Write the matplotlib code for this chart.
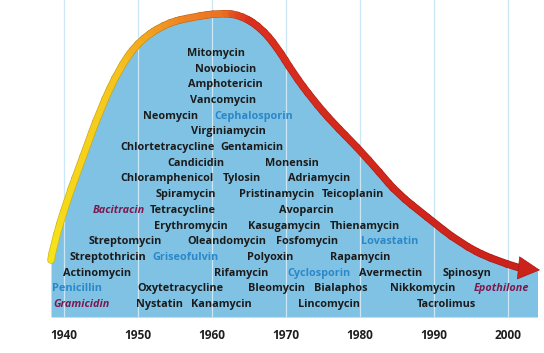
import numpy as np
import matplotlib
matplotlib.use('Agg')
import matplotlib.pyplot as plt
from matplotlib.collections import LineCollection
from matplotlib.colors import LinearSegmentedColormap
from matplotlib.path import Path

#
# data: discovery timeline (x = year, y = stacking row)
#
curve_years = [1938.24, 1938.51, 1940.41, 1942.57, 1944.86, 1947.57, 1950.27, 1953.92,
               1957.43, 1961.08, 1963.78, 1966.49, 1968.78, 1970.95, 1973.65, 1976.35,
               1979.59, 1982.70, 1985.00, 1989.05, 1993.51, 1997.97, 2001.62]
curve_level = [2.74, 3.57, 6.56, 9.31, 12.30, 15.04, 16.76, 17.85,
               18.23, 18.48, 18.36, 17.59, 16.32, 14.66, 12.94, 11.47,
               9.94, 8.29, 7.01, 5.48, 3.82, 2.74, 2.23]
arrow_tip = (2004.32, 2.10)

names = ['Mitomycin', 'Novobiocin', 'Amphotericin', 'Vancomycin',
         'Neomycin', 'Cephalosporin', 'Virginiamycin',
         'Chlortetracycline', 'Gentamicin', 'Candicidin', 'Monensin',
         'Chloramphenicol', 'Tylosin', 'Adriamycin',
         'Spiramycin', 'Pristinamycin', 'Teicoplanin',
         'Bacitracin', 'Tetracycline', 'Avoparcin',
         'Erythromycin', 'Kasugamycin', 'Thienamycin',
         'Streptomycin', 'Oleandomycin', 'Fosfomycin', 'Lovastatin',
         'Streptothricin', 'Griseofulvin', 'Polyoxin', 'Rapamycin',
         'Actinomycin', 'Rifamycin', 'Cyclosporin', 'Avermectin', 'Spinosyn',
         'Penicillin', 'Oxytetracycline', 'Bleomycin', 'Bialaphos', 'Nikkomycin', 'Epothilone',
         'Gramicidin', 'Nystatin', 'Kanamycin', 'Lincomycin', 'Tacrolimus']
years = [1960.6, 1961.8, 1961.8, 1961.5,
         1954.4, 1965.7, 1962.2,
         1954.05, 1965.4, 1957.8, 1970.8,
         1953.9, 1964.0, 1974.5,
         1956.5, 1968.7, 1979.1,
         1947.45, 1956.1, 1972.8,
         1957.2, 1969.7, 1980.7,
         1948.3, 1962.0, 1972.8, 1984.05,
         1945.95, 1956.35, 1967.9, 1980.0,
         1944.5, 1963.9, 1974.5, 1984.1, 1994.5,
         1941.8, 1955.7, 1968.7, 1977.4, 1988.45, 1999.15,
         1942.35, 1952.9, 1961.3, 1975.75, 1991.7]
rows = [16, 15, 14, 13,
        12, 12, 11,
        10, 10, 9, 9,
        8, 8, 8,
        7, 7, 7,
        6, 6, 6,
        5, 5, 5,
        4, 4, 4, 4,
        3, 3, 3, 3,
        2, 2, 2, 2, 2,
        1, 1, 1, 1, 1, 1,
        0, 0, 0, 0, 0]
# k = plain, b = blue, p = purple italic
kinds = ['k', 'k', 'k', 'k',
         'k', 'b', 'k',
         'k', 'k', 'k', 'k',
         'k', 'k', 'k',
         'k', 'k', 'k',
         'p', 'k', 'k',
         'k', 'k', 'k',
         'k', 'k', 'k', 'b',
         'k', 'b', 'k', 'k',
         'k', 'k', 'b', 'k', 'k',
         'b', 'k', 'k', 'k', 'k', 'p',
         'p', 'k', 'k', 'k', 'k']

decades = [1940, 1950, 1960, 1970, 1980, 1990, 2000]

styles = {'k': dict(color='#1b1b1b', style='normal'),
          'b': dict(color='#2b87c9', style='normal'),
          'p': dict(color='#7c1a4e', style='italic')}

fig = plt.figure(figsize=(5.44, 3.53), dpi=100)
ax = fig.add_axes([0.09375, 0.10198, 0.89338, 0.89802])
ax.set_xlim(1938.24, 2003.92)
ax.set_ylim(-0.892, 19.312)

#
# smooth the hand drawn curve: quadratic bezier path, flattened in display space
#
pts = np.column_stack([curve_years, curve_level])
verts = [pts[0]]
codes = [Path.MOVETO]
for i in range(1, len(pts) - 1):
    end = pts[i + 1] if i == len(pts) - 2 else (pts[i] + pts[i + 1]) / 2
    verts += [pts[i], end]
    codes += [Path.CURVE3, Path.CURVE3]
path = Path(verts, codes)
disp = ax.transData.transform_path(path)
poly = disp.to_polygons(closed_only=False)[0]
smooth = ax.transData.inverted().transform(poly)

# blue area under the curve
fx = np.append(smooth[:, 0], arrow_tip[0])
fy = np.append(smooth[:, 1], arrow_tip[1])
ax.fill_between(fx, fy, -0.892, color='#80c2e3', lw=0, zorder=0.2)

# decade grid
ax.set_xticks(decades)
ax.grid(axis='x', color='#cbe7f5', lw=0.9)
ax.set_axisbelow(True)

for s in ax.spines.values():
    s.set_visible(False)
ax.set_yticks([])
ax.tick_params(axis='x', length=0, pad=8.5, labelsize=8.6, labelcolor='#1e1e1e')
for lab in ax.get_xticklabels():
    lab.set_fontweight('bold')
    lab.set_fontfamily('Open Sans')

# gradient curve with a thin darker rim
cmap = LinearSegmentedColormap.from_list('heat', [(0.0, '#f6e31a'), (0.18, '#f5c21e'),
                                                 (0.32, '#f09622'), (0.44, '#ec7022'),
                                                 (0.52, '#dc301e'), (1.0, '#cb221b')])
segs = np.stack([smooth[:-1], smooth[1:]], axis=1)
frac = np.linspace(0, 1, len(segs))
cols = cmap(frac)
rim = cols.copy()
rim[:, :3] *= 0.82
ax.add_collection(LineCollection(segs, colors=rim, linewidths=5.4, capstyle='round',
                                 zorder=2.9, clip_on=False))
ax.add_collection(LineCollection(segs, colors=cols, linewidths=4.4, capstyle='round',
                                 zorder=3, clip_on=False))
ax.annotate('', xy=arrow_tip, xytext=(curve_years[-1], curve_level[-1]),
            arrowprops=dict(arrowstyle='-|>,head_length=1.5,head_width=0.8',
                            fc='#cb221b', ec='#a81a15', lw=0.5, shrinkA=0, shrinkB=0,
                            mutation_scale=10),
            annotation_clip=False, zorder=3)

for name, yr, r, k in zip(names, years, rows, kinds):
    st = styles[k]
    ax.text(yr, r, name, ha='center', va='center_baseline', fontsize=7.8,
            family='Open Sans', fontweight='bold',
            color=st['color'], fontstyle=st['style'], zorder=4)

plt.savefig('out.png', dpi=100)
plt.close()
